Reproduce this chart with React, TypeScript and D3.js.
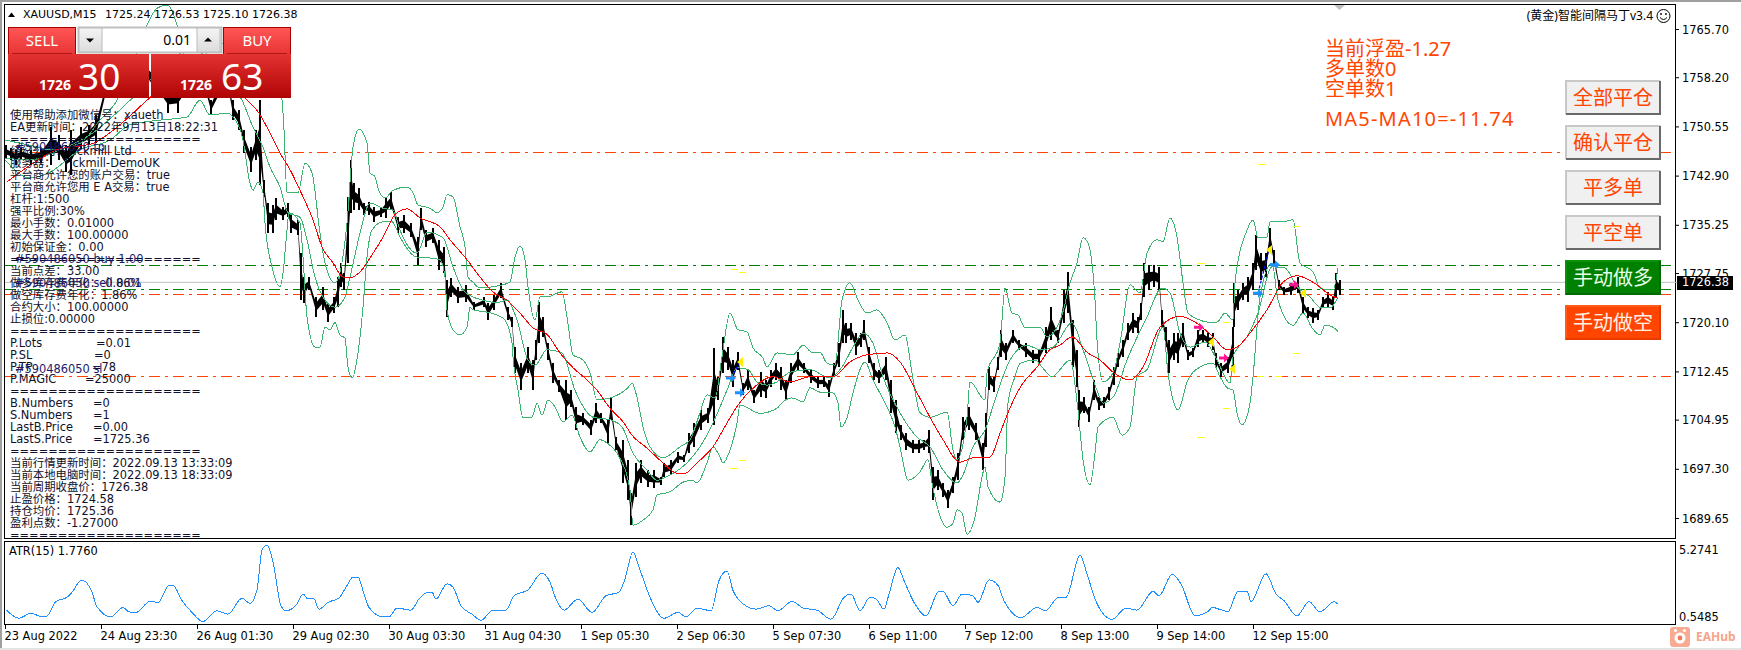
import React from "react";
import * as d3 from "d3";

// ---------- price bars (bar position on the time axis, high, low) ----------
const barNos = [5,10,15,20,30,40,50,58,65,70,80,88,95,105,115,125,135,145,155,167,177,187,197,205,210,220,228,232,238,243,250,255,259,263,267,272,275,282,287,290,297,300,303,308,315,322,327,333,337,340,343,347,350,353,358,363,368,373,380,385,390,397,403,410,417,420,425,432,438,443,446,450,457,465,473,483,487,493,500,507,511,514,520,527,532,535,538,542,547,552,558,565,570,575,582,590,595,600,607,610,615,622,627,630,635,640,647,653,660,663,670,677,683,688,693,700,707,713,717,722,727,732,737,742,747,753,760,765,770,775,780,785,790,797,803,810,817,823,828,833,838,842,845,850,855,860,863,868,873,878,885,890,895,900,905,912,918,923,928,932,937,942,947,952,957,962,968,975,982,985,988,993,997,1000,1005,1012,1018,1025,1032,1038,1045,1050,1057,1063,1067,1072,1076,1078,1083,1088,1093,1098,1103,1108,1113,1117,1122,1127,1132,1137,1140,1143,1148,1153,1158,1161,1165,1168,1173,1177,1182,1187,1192,1197,1202,1207,1212,1215,1220,1227,1232,1233,1237,1242,1247,1252,1255,1260,1265,1269,1273,1278,1283,1290,1297,1302,1307,1312,1317,1322,1327,1332,1335,1339];
const barHighs = [1747.7,1747.3,1747.0,1747.3,1747.0,1747.3,1750.5,1749.3,1747.7,1750.1,1750.5,1750.9,1752.4,1757.8,1759.4,1761.0,1760.2,1761.0,1759.4,1757.1,1757.8,1759.4,1758.6,1757.8,1754.7,1758.6,1757.8,1754.7,1753.2,1750.1,1747.4,1750.1,1754.7,1742.3,1738.7,1738.4,1739.5,1738.1,1738.7,1737.2,1736.1,1730.9,1727.2,1727.2,1724.1,1725.7,1723.2,1724.1,1727.2,1729.4,1727.8,1739.7,1745.4,1741.8,1741.0,1738.7,1738.9,1738.1,1738.1,1739.7,1740.4,1736.5,1736.9,1735.6,1733.4,1737.9,1734.5,1734.8,1733.0,1731.9,1726.7,1727.1,1725.7,1726.0,1723.3,1724.1,1723.2,1724.4,1726.3,1722.5,1721.0,1716.3,1713.8,1716.3,1714.3,1717.4,1723.3,1721.0,1716.9,1713.8,1711.2,1711.2,1709.6,1707.0,1706.0,1705.0,1707.6,1706.0,1705.0,1708.4,1702.3,1701.9,1698.8,1693.6,1698.3,1698.8,1697.2,1697.2,1696.1,1698.3,1698.8,1700.0,1699.5,1703.0,1704.5,1706.5,1706.8,1716.2,1711.7,1717.9,1716.3,1714.3,1715.5,1710.7,1712.8,1709.6,1712.4,1711.2,1712.8,1713.8,1713.2,1711.2,1713.8,1715.5,1713.8,1712.8,1711.7,1711.7,1711.2,1713.8,1716.9,1722.1,1720.1,1720.1,1718.5,1718.5,1720.5,1716.3,1713.8,1712.8,1714.8,1711.2,1708.1,1704.2,1702.9,1701.9,1701.9,1701.9,1703.4,1697.7,1697.2,1695.2,1694.1,1696.1,1699.8,1705.4,1707.0,1704.5,1701.4,1706.1,1713.2,1711.7,1714.8,1719.0,1716.9,1719.0,1717.4,1716.9,1715.9,1715.9,1719.4,1722.5,1719.0,1725.2,1728.0,1720.5,1715.9,1709.6,1708.5,1707.0,1711.2,1708.5,1708.5,1710.1,1713.2,1715.4,1717.4,1720.1,1721.6,1721.0,1723.2,1729.4,1729.1,1729.1,1728.8,1722.1,1719.4,1717.4,1718.5,1718.5,1720.1,1715.9,1716.2,1719.0,1719.0,1718.5,1718.5,1715.4,1713.8,1714.8,1719.4,1726.3,1725.2,1726.3,1727.2,1729.4,1733.8,1731.0,1731.0,1734.8,1731.4,1726.7,1725.7,1726.3,1727.2,1724.1,1722.5,1722.4,1722.1,1724.1,1724.9,1724.1,1727.8,1726.7];
const barLows = [1745.7,1745.4,1744.6,1745.4,1744.6,1744.9,1744.6,1745.4,1743.5,1743.1,1747.0,1747.7,1748.0,1755.2,1755.5,1756.3,1755.5,1757.1,1755.5,1752.7,1752.7,1755.5,1755.2,1755.2,1752.4,1755.2,1755.2,1751.6,1750.1,1746.5,1743.5,1745.4,1741.5,1739.7,1734.0,1734.0,1736.1,1736.1,1736.5,1734.0,1733.7,1723.6,1723.2,1725.2,1721.0,1722.1,1720.2,1721.6,1722.5,1725.7,1725.2,1729.4,1737.2,1737.6,1737.6,1736.9,1736.9,1735.8,1736.5,1736.4,1737.6,1734.0,1734.0,1733.4,1729.1,1734.5,1731.9,1732.5,1728.3,1727.8,1721.0,1724.1,1723.2,1723.3,1722.1,1722.5,1720.5,1722.1,1723.9,1720.5,1719.4,1712.3,1709.6,1712.3,1709.6,1714.3,1716.9,1717.9,1714.3,1710.7,1709.3,1705.0,1707.0,1703.4,1704.2,1702.6,1704.5,1704.5,1701.4,1705.0,1700.3,1695.2,1692.5,1688.6,1693.0,1695.2,1694.6,1694.4,1694.9,1696.1,1696.4,1698.3,1698.4,1699.8,1700.8,1703.4,1704.5,1704.2,1708.1,1712.3,1712.8,1710.1,1712.8,1708.9,1709.6,1707.6,1708.5,1708.4,1710.1,1711.2,1709.6,1708.1,1710.7,1712.8,1712.3,1710.7,1710.0,1710.1,1708.5,1711.7,1713.2,1716.9,1716.9,1717.4,1715.1,1716.3,1717.4,1713.8,1711.2,1710.7,1711.2,1706.0,1702.9,1701.9,1700.3,1699.8,1699.8,1700.3,1699.8,1692.5,1694.1,1693.0,1691.3,1693.6,1695.6,1701.9,1703.4,1701.9,1697.2,1700.8,1709.6,1709.3,1712.8,1714.8,1714.3,1716.9,1715.9,1714.8,1713.8,1713.8,1715.4,1717.4,1716.9,1720.1,1721.6,1713.2,1710.1,1703.9,1706.0,1704.7,1708.1,1706.5,1706.8,1708.1,1710.4,1713.2,1714.8,1717.4,1718.5,1718.5,1720.5,1724.1,1725.2,1725.7,1725.2,1719.4,1716.3,1712.3,1714.3,1713.8,1716.3,1714.3,1714.8,1716.3,1716.9,1716.3,1715.9,1713.2,1711.7,1712.3,1713.2,1719.4,1722.1,1723.6,1723.3,1725.2,1728.3,1726.7,1727.2,1731.9,1728.8,1725.2,1724.4,1724.4,1724.7,1721.6,1720.8,1720.1,1720.5,1722.4,1722.4,1722.1,1724.1,1724.4];

// ---------- band lines ----------
const upperBars = [5,30,50,80,100,117,130,147,157,168,177,190,210,240,270,282,284,287,298,305,312,320,325,335,347,353,359,367,370,375,378,385,393,407,413,418,430,437,443,447,453,460,465,468,473,480,493,510,515,520,525,528,535,540,547,562,567,573,583,590,597,610,628,632,637,643,650,663,680,690,700,707,715,722,730,738,747,753,763,767,777,793,803,812,820,827,835,842,850,858,867,877,887,895,905,912,920,930,947,953,957,967,970,985,987,1000,1005,1012,1018,1025,1040,1047,1062,1070,1077,1083,1088,1095,1097,1103,1113,1120,1130,1140,1147,1157,1163,1170,1177,1183,1188,1200,1207,1217,1225,1233,1235,1247,1253,1258,1267,1270,1283,1293,1300,1313,1320,1327,1333,1338];
const upperPrices = [1748.5,1747.7,1747.0,1748.0,1751.6,1754.7,1759.4,1766.4,1769.0,1769.5,1766.4,1759.4,1762.5,1764.1,1761.0,1754.7,1750.1,1740.3,1740.3,1744.9,1743.4,1734.0,1729.4,1726.3,1735.6,1747.4,1750.2,1748.0,1743.4,1742.8,1741.0,1739.5,1740.7,1741.2,1740.3,1738.4,1737.9,1737.2,1738.1,1740.0,1739.7,1735.0,1731.9,1727.2,1726.4,1725.5,1725.7,1726.4,1730.3,1732.0,1729.9,1725.7,1720.5,1724.1,1724.1,1724.9,1721.0,1715.1,1714.3,1712.3,1708.1,1708.4,1710.0,1710.7,1708.5,1703.9,1700.8,1699.1,1700.8,1701.9,1706.1,1708.9,1708.4,1714.8,1721.6,1719.0,1718.7,1716.2,1714.6,1713.2,1715.4,1715.1,1716.6,1715.5,1715.5,1713.8,1713.5,1723.6,1726.3,1723.6,1721.6,1722.1,1720.1,1717.4,1718.2,1712.3,1706.1,1705.4,1706.2,1700.3,1698.8,1705.4,1710.9,1708.1,1712.3,1716.9,1725.5,1721.6,1721.3,1719.3,1719.4,1717.9,1721.3,1726.3,1729.4,1733.3,1732.5,1723.6,1717.4,1710.9,1712.3,1716.9,1726.0,1724.7,1730.9,1733.0,1732.7,1736.4,1733.4,1726.3,1721.6,1720.5,1720.2,1720.2,1721.6,1720.5,1726.3,1734.5,1736.1,1733.3,1733.4,1735.8,1735.8,1736.1,1729.4,1728.0,1725.5,1725.2,1725.2,1728.6];

const middleBars = [5,30,60,90,120,150,170,190,210,225,242,253,263,270,280,288,300,307,315,323,335,345,350,360,370,383,393,400,417,427,443,453,463,473,483,497,507,517,528,535,547,562,575,593,610,622,633,647,657,670,687,700,713,727,737,748,757,767,777,790,810,830,842,853,863,873,883,900,917,930,943,957,962,973,985,995,1010,1027,1040,1053,1072,1083,1097,1103,1113,1127,1147,1162,1170,1180,1190,1205,1217,1230,1233,1247,1258,1272,1285,1297,1310,1320,1330,1338];
const middlePrices = [1745.7,1745.4,1747.0,1749.3,1753.2,1757.8,1761.0,1762.5,1761.0,1757.8,1754.7,1750.5,1747.4,1744.3,1741.2,1737.2,1736.5,1733.0,1727.2,1724.1,1722.5,1724.1,1727.2,1734.0,1738.7,1737.9,1737.6,1734.5,1730.9,1734.2,1733.3,1728.8,1725.2,1724.1,1723.6,1723.2,1723.6,1720.5,1714.3,1713.5,1715.9,1715.4,1709.6,1705.4,1705.0,1703.9,1699.8,1697.2,1695.6,1696.4,1698.3,1700.8,1704.5,1709.6,1713.1,1712.8,1710.9,1710.4,1710.9,1712.4,1712.8,1711.5,1713.2,1716.3,1718.5,1716.9,1711.7,1706.1,1702.3,1700.8,1697.2,1695.2,1696.1,1700.8,1703.4,1708.1,1714.3,1716.6,1715.9,1716.3,1720.1,1715.9,1709.6,1707.6,1708.5,1714.3,1721.0,1725.5,1724.7,1718.5,1716.3,1717.1,1714.3,1710.7,1714.8,1717.9,1721.6,1728.8,1728.6,1725.7,1724.1,1722.5,1722.4,1724.1];

const lowerBars = [5,30,50,80,110,130,160,187,200,210,227,233,243,250,253,258,263,265,272,280,283,287,289,300,303,307,315,320,325,330,335,340,345,348,352,358,363,367,372,383,392,400,417,427,440,445,447,453,460,467,470,473,485,497,505,512,513,518,523,532,537,542,548,555,563,572,580,590,600,607,617,630,633,643,653,657,670,683,692,697,707,713,720,723,730,737,740,760,777,783,792,803,810,820,833,838,841,847,853,865,873,887,895,900,908,920,928,932,947,953,957,962,967,975,982,985,988,1000,1005,1008,1015,1020,1035,1042,1052,1070,1078,1083,1090,1095,1098,1113,1122,1130,1137,1147,1163,1168,1173,1178,1183,1187,1200,1213,1220,1227,1233,1237,1242,1250,1253,1260,1272,1278,1293,1303,1312,1320,1325,1333,1338];
const lowerPrices = [1745.4,1742.6,1743.5,1747.0,1748.5,1750.9,1751.6,1752.1,1754.7,1752.4,1752.7,1752.1,1748.5,1741.8,1740.7,1742.0,1740.3,1735.6,1728.8,1725.7,1727.8,1734.5,1737.2,1735.6,1730.3,1721.0,1716.3,1716.3,1719.4,1719.0,1720.1,1718.2,1717.7,1713.2,1711.5,1715.4,1722.5,1730.3,1734.5,1735.8,1735.8,1733.4,1730.3,1730.2,1729.9,1727.2,1722.1,1719.0,1718.2,1719.4,1722.5,1722.1,1721.8,1721.3,1720.5,1716.9,1714.8,1709.6,1705.3,1705.4,1707.6,1705.7,1708.1,1707.0,1704.7,1705.7,1702.3,1700.0,1701.9,1701.4,1699.8,1694.1,1688.6,1689.4,1691.0,1693.3,1693.8,1695.3,1695.6,1695.2,1698.3,1700.8,1699.2,1698.3,1700.3,1704.5,1707.3,1706.0,1706.8,1707.8,1708.4,1707.8,1710.0,1709.3,1709.2,1707.6,1703.9,1705.3,1709.2,1714.0,1711.2,1707.0,1703.9,1700.8,1695.6,1696.9,1698.8,1695.2,1688.3,1688.9,1691.0,1690.5,1687.2,1689.9,1696.1,1697.7,1694.6,1692.2,1696.1,1707.6,1711.7,1713.8,1714.3,1713.2,1711.7,1714.3,1706.5,1698.8,1694.9,1699.8,1703.9,1705.4,1702.6,1703.9,1711.7,1712.8,1719.4,1712.3,1708.1,1706.5,1708.5,1710.9,1713.2,1713.8,1711.7,1710.0,1709.6,1706.1,1704.2,1707.6,1711.7,1724.1,1729.4,1723.6,1719.7,1721.6,1719.3,1718.2,1719.7,1719.4,1718.7];

const maBars = [7,20,33,57,93,120,147,170,195,220,247,258,267,280,290,300,313,322,333,343,350,360,373,383,395,407,420,440,450,467,480,493,507,520,533,547,560,573,587,597,610,623,632,647,663,677,685,697,713,727,738,753,773,790,810,833,850,867,888,900,917,930,943,960,973,990,1000,1008,1020,1037,1050,1060,1072,1087,1100,1113,1130,1143,1160,1180,1197,1213,1227,1237,1250,1267,1283,1297,1317,1330,1338];
const maPrices = [1742.0,1743.5,1744.9,1747.0,1748.0,1750.9,1754.7,1757.8,1759.4,1758.6,1754.7,1752.9,1750.5,1746.5,1743.9,1740.7,1736.1,1731.9,1729.4,1727.2,1727.1,1728.0,1730.9,1733.4,1736.9,1737.8,1736.4,1735.0,1733.0,1729.9,1727.2,1724.9,1723.6,1721.6,1719.3,1718.3,1715.4,1713.1,1711.2,1709.6,1706.8,1704.7,1702.6,1700.6,1698.3,1696.7,1696.7,1698.3,1700.8,1704.5,1707.3,1709.9,1711.7,1710.9,1711.7,1711.7,1714.0,1715.1,1715.4,1714.0,1709.2,1705.4,1701.9,1698.4,1699.1,1699.2,1702.9,1706.1,1710.0,1713.2,1715.9,1716.6,1717.9,1715.5,1714.3,1712.4,1711.2,1713.2,1719.4,1721.1,1720.0,1717.9,1715.9,1716.3,1718.5,1722.1,1726.4,1727.4,1726.0,1724.4,1723.9];

// ---------- ATR pane ----------
const atrBars = [6,11,19,31,42,46,56,67,72,81,83,92,97,111,123,129,136,150,158,169,173,182,192,203,217,228,242,250,257,262,267,273,281,286,297,303,308,314,319,328,339,346,353,358,364,369,383,389,397,411,419,428,432,436,447,453,461,472,481,492,506,514,528,542,550,556,564,578,592,606,619,625,633,639,650,664,678,686,697,711,719,727,733,739,756,769,778,792,803,817,831,844,851,860,870,876,884,889,898,904,914,926,939,943,953,962,973,978,989,998,1004,1021,1037,1045,1059,1066,1080,1087,1095,1112,1126,1137,1153,1159,1172,1181,1195,1209,1212,1228,1238,1247,1251,1266,1276,1284,1297,1309,1320,1334,1338];
const atrValues = [1.06,0.75,0.46,0.82,0.56,0.56,1.65,1.94,2.29,3.12,3.12,2.29,1.27,0.56,1.22,0.91,0.87,1.65,1.58,2.77,2.77,1.70,0.87,0.23,0.99,0.75,1.87,1.51,2.46,5.26,5.62,4.43,1.34,0.99,1.46,2.17,1.82,1.82,1.10,1.58,1.89,2.65,3.36,3.36,2.17,1.22,0.56,0.56,1.18,1.03,1.82,2.29,2.29,1.82,2.89,2.65,1.34,0.75,0.32,0.99,1.03,2.05,2.46,3.65,3.00,1.82,1.03,1.82,0.87,2.05,2.29,3.24,5.14,4.07,1.94,0.46,0.87,0.56,1.18,0.99,3.12,3.79,2.41,1.75,1.10,1.34,0.99,1.65,1.18,1.03,0.39,1.94,2.17,0.99,1.94,1.82,1.10,2.17,4.03,3.12,1.58,0.63,2.36,2.36,1.34,2.17,2.05,1.58,3.17,2.77,1.70,0.51,1.22,0.99,1.94,1.94,4.90,3.60,1.82,0.39,1.18,1.03,2.36,2.05,3.55,2.89,0.63,0.99,1.22,0.94,2.36,2.36,1.65,3.60,2.17,1.70,0.63,1.63,0.91,1.63,1.46];

// ---------- axes ----------
const priceTicks = [1765.7,1758.2,1750.55,1742.9,1735.25,1727.75,1720.1,1712.45,1704.95,1697.3,1689.65];
const priceTickLabels = ["1765.70","1758.20","1750.55","1742.90","1735.25","1727.75","1720.10","1712.45","1704.95","1697.30","1689.65"];
const timeLabels = ["23 Aug 2022","24 Aug 23:30","26 Aug 01:30","29 Aug 02:30","30 Aug 03:30","31 Aug 04:30","1 Sep 05:30","2 Sep 06:30","5 Sep 07:30","6 Sep 11:00","7 Sep 12:00","8 Sep 13:00","9 Sep 14:00","12 Sep 15:00"];
const atrTicks = [5.2741, 0.5485];
const atrTickLabels = ["5.2741", "0.5485"];

// ---------- order levels ----------
const redLevels = [1746.66, 1724.5, 1711.8];
const greenLevels = [1729.1, 1725.3];
const lastPrice = 1726.38;

// ---------- trade markers ----------
const stopDashBars = [731,739,730,739,1198,1223,1223,1198,1293,1293,1257,1275,1258];
const stopDashPrices = [1728.5,1728.0,1697.5,1698.8,1729.4,1720.2,1706.8,1702.3,1735.1,1715.4,1711.8,1711.8,1744.8];
const blueArrowBars = [731,740,1258,1275];
const blueArrowPrices = [1711.5,1709.2,1724.7,1729.1];
const pinkArrowBars = [1199,1224,1294];
const pinkArrowPrices = [1719.4,1714.6,1726.0];
const yellowTriBars = [740,1211,1232,1269,1303];
const yellowTriPrices = [1714.0,1717.1,1712.9,1731.4,1724.7];
const tradeFromBars = [731,1258];
const tradeFromPrices = [1711.5,1724.7];
const tradeToBars = [740,1269];
const tradeToPrices = [1714.0,1731.4];

// ---------- texts ----------
const sep = "====================";
const infoLines = [
  "使用帮助添加微信号：xaueth","EA更新时间：2022年9月13日18:22:31",sep,"经纪公司：Tickmill Ltd","服务器：  Tickmill-DemoUK",
  "平台商允许您的账户交易：true","平台商允许您用 E A交易：true","杠杆:1:500","强平比例:30%","最小手数：0.01000","最大手数：100.00000","初始保证金：0.00",sep,
  "当前点差：33.00","做多库存费年化：-0.86%","做空库存费年化：1.86%","合约大小：100.00000","止损位:0.00000",sep,
];
const paramNames = ["P.Lots","P.SL","P.TP","P.MAGIC"];
const paramValues = ["=0.01","=0","=78","=25000"];
const paramEq = [96,94,92,85];
const countNames = ["B.Numbers","S.Numbers","LastB.Price","LastS.Price"];
const countValues = ["=0","=1","=0.00","=1725.36"];
const tailLines = [sep,"当前行情更新时间：2022.09.13 13:33:09","当前本地电脑时间：2022.09.13 18:33:09","当前周期收盘价：1726.38","止盈价格：1724.58","持仓均价：1725.36","盈利点数：-1.27000",sep];
const orderTags = ["#590486050 tp","#590486050 buy 1.00","#590486050 sell 0.01","#590486050 sl"];
const orderTagRows = [147,259,283,369];
const statusLines = ["当前浮盈-1.27","多单数0","空单数1"];
const lightButtons = ["全部平仓","确认平仓","平多单","平空单"];

const WIDTH = 1741, HEIGHT = 650;
const FONT = "'DejaVu Sans','Noto Sans CJK SC',sans-serif";
const UIFONT = "'Noto Sans','Noto Sans CJK SC',sans-serif";
const OR = "#ff4500";

const x = d3.scaleLinear().domain([0, WIDTH]).range([0, WIDTH]);
const y = d3.scaleLinear().domain([1765.7, 1689.65]).range([29.5, 518.5]);
const yAtr = d3.scaleLinear().domain([5.2741, 0.5485]).range([550, 617]);

function makeLine(bars: number[], vals: number[], scale: (v: number) => number) {
  const pts = bars.map((b, i) => [x(b), scale(vals[i])] as [number, number]);
  return d3.line().curve(d3.curveMonotoneX)(pts) as string;
}

// solid core that joins neighbouring bars, so the wicks read as one dense price ribbon
const barCore = d3.area<number>()
  .x((_, i) => x(barNos[i]) + 1)
  .y0((_, i) => y(barLows[i] + (barHighs[i] - barLows[i]) * 0.3))
  .y1((_, i) => y(barHighs[i] - (barHighs[i] - barLows[i]) * 0.3));

const ChartBtn = ({ top, label, fill, tl, br, color }: any) => (
  <g>
    <rect x={1565} y={top} width={96} height={35} fill={fill} />
    <path d={`M1566,${top + 34} V${top + 1} H1660`} fill="none" stroke={tl} strokeWidth={2} />
    <path d={`M1566,${top + 34} H1660 V${top + 1}`} fill="none" stroke={br} strokeWidth={2} />
    <text x={1613} y={top + 18} dy="0.36em" textAnchor="middle" fontSize={20} fill={color} fontFamily={UIFONT}>{label}</text>
  </g>
);

export default function App() {
  const clipId = "plotClip";
  const infoRow = (i: number) => 115 + 12 * i;
  return (
    <svg width={WIDTH} height={HEIGHT} style={{ position: "fixed", left: 0, top: 0, background: "#fff" }}>
      <defs>
        <clipPath id={clipId}><rect x={5} y={5} width={1670} height={533} /></clipPath>
        <linearGradient id="hdr" x1="0" x2="0" y1="0" y2="1"><stop offset="0" stopColor="#ff5656" /><stop offset="1" stopColor="#e83434" /></linearGradient>
        <linearGradient id="low" x1="0" x2="0" y1="0" y2="1"><stop offset="0" stopColor="#e43232" /><stop offset="1" stopColor="#b00404" /></linearGradient>
        <linearGradient id="spin" x1="0" x2="0" y1="0" y2="1"><stop offset="0" stopColor="#f4f4f4" /><stop offset="1" stopColor="#dcdcdc" /></linearGradient>
      </defs>

      {/* window frame */}
      <rect x={0} y={0} width={WIDTH} height={2} fill="#a0a0a0" />
      <rect x={0} y={0} width={2} height={648} fill="#a0a0a0" />
      <rect x={0} y={648} width={WIDTH} height={2} fill="#e4e4e4" />

      <g clipPath={`url(#${clipId})`}>
        <line x1={5} x2={1675} y1={y(lastPrice)} y2={y(lastPrice)} stroke="#c0c0c0" strokeWidth={1} />
        {redLevels.map((p) => (
          <line key={p} x1={5} x2={1671} y1={Math.round(y(p)) + 0.5} y2={Math.round(y(p)) + 0.5} stroke={OR} strokeDasharray="11,5,3,5" />
        ))}
        {greenLevels.map((p) => (
          <line key={p} x1={5} x2={1671} y1={Math.round(y(p)) + 0.5} y2={Math.round(y(p)) + 0.5} stroke="#008000" strokeDasharray="11,5,3,5" />
        ))}
        <path d={barCore(barNos) as string} fill="#000" />
        {barNos.map((b, i) => (
          <rect key={b} x={x(b)} y={y(barHighs[i])} width={2} height={y(barLows[i]) - y(barHighs[i])} fill="#000" shapeRendering="crispEdges" />
        ))}
        <path d={makeLine(upperBars, upperPrices, y)} fill="none" stroke="#3cb371" shapeRendering="crispEdges" />
        <path d={makeLine(middleBars, middlePrices, y)} fill="none" stroke="#3cb371" shapeRendering="crispEdges" />
        <path d={makeLine(lowerBars, lowerPrices, y)} fill="none" stroke="#3cb371" shapeRendering="crispEdges" />
        <path d={makeLine(maBars, maPrices, y)} fill="none" stroke="#ff0000" shapeRendering="crispEdges" />

        {tradeFromBars.map((b, i) => (
          <line key={b} x1={x(b)} y1={y(tradeFromPrices[i])} x2={x(tradeToBars[i])} y2={y(tradeToPrices[i])} stroke="#0000ff" strokeWidth={1.2} strokeDasharray="3,2" />
        ))}
        {stopDashBars.map((b, i) => (
          <rect key={i} x={x(b)} y={Math.round(y(stopDashPrices[i]))} width={7} height={1} fill="#ffff00" />
        ))}
        {blueArrowBars.map((b, i) => {
          const cx = x(b), cy = y(blueArrowPrices[i]);
          return <path key={b} d={`M${cx - 5},${cy - 1.5} H${cx} V${cy - 4.5} L${cx + 5},${cy} L${cx},${cy + 4.5} V${cy + 1.5} H${cx - 5} Z`} fill="#1e90ff" />;
        })}
        {pinkArrowBars.map((b, i) => {
          const cx = x(b), cy = y(pinkArrowPrices[i]);
          return <path key={b} d={`M${cx - 5},${cy - 1.5} H${cx} V${cy - 4.5} L${cx + 5},${cy} L${cx},${cy + 4.5} V${cy + 1.5} H${cx - 5} Z`} fill="#ff1493" />;
        })}
        {yellowTriBars.map((b, i) => {
          const cx = x(b), cy = y(yellowTriPrices[i]);
          return <path key={b} d={`M${cx + 3},${cy - 5} V${cy + 5} L${cx - 3},${cy} Z`} fill="#ffee00" />;
        })}
      </g>

      {/* scale-fix marker */}
      <path d="M1334,5 H1345 L1339.5,10 Z" fill="#c0c0c0" />

      {/* pane borders */}
      <rect x={4.5} y={4.5} width={1671} height={534} fill="none" stroke="#000" />
      <rect x={4.5} y={541.5} width={1671} height={83} fill="none" stroke="#000" />

      {/* price axis */}
      {priceTicks.map((p, i) => (
        <g key={p}>
          <line x1={1675} x2={1679} y1={y(p)} y2={y(p)} stroke="#000" />
          <text x={1682} y={y(p)} dy="0.36em" fontSize={11.4} fontFamily={FONT} fill="#000">{priceTickLabels[i]}</text>
        </g>
      ))}
      <line x1={1675} x2={1679} y1={y(lastPrice)} y2={y(lastPrice)} stroke="#c0c0c0" />
      <rect x={1677} y={276} width={56} height={14} fill="#000" />
      <text x={1682} y={y(lastPrice)} dy="0.36em" fontSize={11.4} fontFamily={FONT} fill="#fff">{lastPrice.toFixed(2)}</text>

      {/* ATR pane */}
      <path d={makeLine(atrBars, atrValues, yAtr)} fill="none" stroke="#1e90ff" shapeRendering="crispEdges" />
      <text x={9} y={551} dy="0.36em" fontSize={11.4} fontFamily={FONT} fill="#000">ATR(15) 1.7760</text>
      {atrTicks.map((v, i) => (
        <text key={v} x={1679} y={yAtr(v)} dy="0.36em" fontSize={11.4} fontFamily={FONT} fill="#000">{atrTickLabels[i]}</text>
      ))}

      {/* time axis */}
      {timeLabels.map((t, i) => {
        const tx = x(5.5 + 96 * i);
        return (
          <g key={t}>
            <line x1={tx} x2={tx} y1={625} y2={629} stroke="#000" />
            <text x={tx - 1} y={636} dy="0.36em" fontSize={11.4} fontFamily={FONT} fill="#000">{t}</text>
          </g>
        );
      })}

      {/* header */}
      <path d="M8,17 L15,17 L11.5,12.5 Z" fill="#000" />
      <text x={23} y={14.5} dy="0.36em" fontSize={11} fontFamily={FONT} fill="#000">XAUUSD,M15</text>
      <text x={105} y={14.5} dy="0.36em" fontSize={11} fontFamily={FONT} fill="#000">1725.24 1726.53 1725.10 1726.38</text>

      {/* trade panel */}
      <rect x={8.5} y={27.5} width={67} height={27} fill="url(#hdr)" stroke="#a80000" />
      <rect x={223.5} y={27.5} width={67} height={27} fill="url(#hdr)" stroke="#a80000" />
      <rect x={8} y={54} width={141} height={44} fill="url(#low)" />
      <rect x={151} y={54} width={140} height={44} fill="url(#low)" />
      <line x1={12} x2={72} y1={53.5} y2={53.5} stroke="#b01818" />
      <line x1={227} x2={287} y1={53.5} y2={53.5} stroke="#b01818" />
      <text x={42} y={41} dy="0.36em" textAnchor="middle" fontSize={15} fontFamily={UIFONT} fill="#fff">SELL</text>
      <text x={257} y={41} dy="0.36em" textAnchor="middle" fontSize={15} fontFamily={UIFONT} fill="#fff">BUY</text>
      <rect x={78.5} y={27.5} width={143} height={25} fill="#fff" stroke="#c0c0c0" strokeWidth={2} />
      <rect x={79} y={28} width={23} height={24} fill="url(#spin)" stroke="#bbb" />
      <rect x={197} y={28} width={23} height={24} fill="url(#spin)" stroke="#bbb" />
      <path d="M86,38.5 H94 L90,42.5 Z" fill="#000" />
      <path d="M204,41.5 H212 L208,37.5 Z" fill="#000" />
      <text x={191} y={40} dy="0.36em" textAnchor="end" fontSize={14} fontFamily={UIFONT} fill="#000">0.01</text>
      <text x={39} y={90} fontSize={14} fontWeight={700} fontFamily={UIFONT} fill="#fff">1726</text>
      <text x={78} y={90} fontSize={37} fontFamily={UIFONT} fill="#fff">30</text>
      <text x={180} y={90} fontSize={14} fontWeight={700} fontFamily={UIFONT} fill="#fff">1726</text>
      <text x={221} y={90} fontSize={37} fontFamily={UIFONT} fill="#fff">63</text>

      {/* info column */}
      <g fontSize={11.4} fontFamily={FONT} fill="#10102a">
        {infoLines.map((t, i) => <text key={i} x={10} y={infoRow(i)} dy="0.36em" style={{ whiteSpace: "pre" }}>{t}</text>)}
        {paramNames.map((t, i) => (
          <g key={t}>
            <text x={10} y={infoRow(19 + i)} dy="0.36em">{t}</text>
            <text x={paramEq[i]} y={infoRow(19 + i)} dy="0.36em">{paramValues[i]}</text>
          </g>
        ))}
        <text x={10} y={infoRow(23)} dy="0.36em">{sep}</text>
        {countNames.map((t, i) => (
          <g key={t}>
            <text x={10} y={infoRow(24 + i)} dy="0.36em">{t}</text>
            <text x={93} y={infoRow(24 + i)} dy="0.36em">{countValues[i]}</text>
          </g>
        ))}
        {tailLines.map((t, i) => <text key={i} x={10} y={infoRow(28 + i)} dy="0.36em">{t}</text>)}
        {orderTags.map((t, i) => <text key={t} x={15} y={orderTagRows[i]} dy="0.36em" fill="#1a1a6a">{t}</text>)}
      </g>

      {/* EA title */}
      <text x={1653} y={16} dy="0.36em" textAnchor="end" fontSize={12} fontFamily={UIFONT} fill="#000">(黄金)智能间隔马丁v3.4</text>
      <circle cx={1663.5} cy={16} r={6.5} fill="#fff" stroke="#000" />
      <circle cx={1661} cy={14} r={0.9} fill="#000" />
      <circle cx={1666} cy={14} r={0.9} fill="#000" />
      <path d="M1660,17.5 Q1663.5,21.5 1667,17.5" fill="none" stroke="#000" />

      {/* status */}
      {statusLines.map((t, i) => (
        <text key={t} x={1325} y={49 + 20 * i} dy="0.36em" fontSize={20} fontFamily={UIFONT} fill={OR}>{t}</text>
      ))}
      <text x={1325} y={119} dy="0.36em" fontSize={20} letterSpacing={1.2} fontFamily={UIFONT} fill={OR}>MA5-MA10=-11.74</text>

      {/* right buttons */}
      {lightButtons.map((t, i) => (
        <ChartBtn key={t} top={80 + 45 * i} label={t} fill="#f0f0f0" tl="#c8c8c8" br="#696969" color={OR} />
      ))}
      <ChartBtn top={260} label="手动做多" fill="#008000" tl="#0a900a" br="#006a00" color="#e6ffe6" />
      <ChartBtn top={305} label="手动做空" fill={OR} tl="#ff5a1a" br="#e63a00" color="#fff0e6" />

      {/* watermark */}
      <rect x={1670} y={627} width={20} height={20} rx={3} fill="#f8ab92" />
      <circle cx={1680} cy={638} r={5.5} fill="#fff" />
      <circle cx={1680} cy={638} r={2.4} fill="#f27a5a" />
      <circle cx={1675.5} cy={630.5} r={1.6} fill="#fff" />
      <circle cx={1684.5} cy={630.5} r={1.6} fill="#fff" />
      <text x={1696} y={637} dy="0.36em" fontSize={12} fontWeight={700} fontFamily={UIFONT} fill="#f6a488">EAHub</text>
    </svg>
  );
}
